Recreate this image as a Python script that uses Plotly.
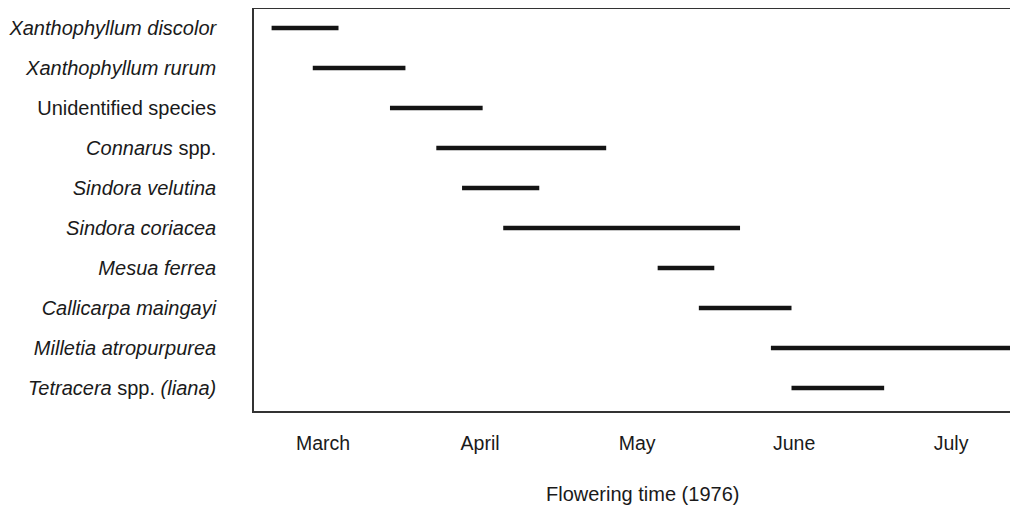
import plotly.graph_objects as go

species = [
    "Xanthophyllum discolor",
    "Xanthophyllum rurum",
    "Unidentified species",
    "Connarus spp.",
    "Sindora velutina",
    "Sindora coriacea",
    "Mesua ferrea",
    "Callicarpa maingayi",
    "Milletia atropurpurea",
    "Tetracera spp. (liana)",
]
species_labels = [
    "<i>Xanthophyllum discolor</i>",
    "<i>Xanthophyllum rurum</i>",
    "Unidentified species",
    "<i>Connarus</i> spp.",
    "<i>Sindora velutina</i>",
    "<i>Sindora coriacea</i>",
    "<i>Mesua ferrea</i>",
    "<i>Callicarpa maingayi</i>",
    "<i>Milletia atropurpurea</i>",
    "<i>Tetracera</i> spp. <i>(liana)</i>",
]
start_dates = [
    "1976-03-06", "1976-03-14", "1976-03-29", "1976-04-07", "1976-04-12",
    "1976-04-20", "1976-05-20", "1976-05-28", "1976-06-11", "1976-06-15",
]
end_dates = [
    "1976-03-19", "1976-04-01", "1976-04-16", "1976-05-10", "1976-04-27",
    "1976-06-05", "1976-05-31", "1976-06-15", "1976-07-31", "1976-07-03",
]
month_ticks = ["1976-03-16", "1976-04-15 12:00", "1976-05-16", "1976-06-15 12:00", "1976-07-16"]
month_labels = ["March", "April", "May", "June", "July"]

FONT = "Liberation Sans, Arial, Helvetica, sans-serif"
INK = "#141414"
TEXT = "#1a1a1a"

fig = go.Figure()
for name, s, e in zip(species, start_dates, end_dates):
    fig.add_trace(go.Scatter(
        x=[s, e], y=[name, name], mode="lines",
        line=dict(color=INK, width=4.5),
        showlegend=False, hoverinfo="skip",
    ))

fig.update_layout(
    width=1010, height=499,
    margin=dict(l=246, r=0, t=1, b=96),
    paper_bgcolor="white", plot_bgcolor="white",
    font=dict(family=FONT, size=20, color=TEXT),
    showlegend=False,
)
fig.update_xaxes(
    type="date",
    range=["1976-03-02 14:00", "1976-07-29"],
    tickvals=month_ticks, ticktext=month_labels,
    tickfont=dict(size=19.5),
    showgrid=False, zeroline=False,
    showline=True, linecolor="#333333", linewidth=1.6, mirror=True,
    ticks="", ticklabelstandoff=14,
)
fig.update_yaxes(
    type="category",
    categoryorder="array", categoryarray=species,
    tickvals=species, ticktext=species_labels,
    range=[9.575, -0.475],
    tickfont=dict(size=20),
    showgrid=False, zeroline=False,
    showline=True, linecolor="#333333", linewidth=1.6, mirror=False,
    ticks="", ticklabelstandoff=32,
)
fig.add_annotation(
    text="Flowering time (1976)", xref="paper", yref="paper",
    x=0.509, y=0, yshift=-83, showarrow=False,
    xanchor="center", yanchor="middle",
    font=dict(family=FONT, size=20, color=TEXT),
)

fig.write_html("out.html")
